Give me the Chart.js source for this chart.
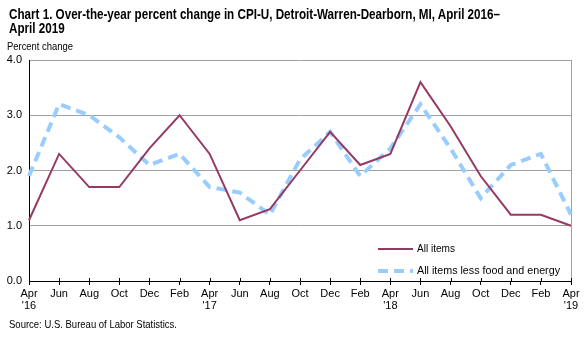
<!DOCTYPE html>
<html>
<head>
<meta charset="utf-8">
<script src="https://cdn.jsdelivr.net/npm/chart.js@4"></script>
<style>
  body { margin: 0; background: #fff; }
  #wrap { position: relative; width: 587px; height: 337px; overflow: hidden; }
  canvas { position: absolute; left: 0; top: 0; }
  .txt { position: absolute; font-family: "Liberation Sans", Arial, sans-serif; color: #000; white-space: nowrap; transform-origin: 0 0; }
  #title { left: 9px; top: 7px; font-size: 14px; font-weight: bold; line-height: 14px; }
  #ylab { left: 7px; top: 40px; font-size: 11px; }
  #source { left: 9px; top: 318px; font-size: 11px; }
</style>
</head>
<body>
<div id="wrap">
  <canvas id="chart" width="587" height="337"></canvas>
  <div id="title" class="txt"><span id="t1">Chart 1. Over-the-year percent change in CPI-U, Detroit-Warren-Dearborn, MI, April 2016–</span><br>April 2019</div>
  <div id="ylab" class="txt">Percent change</div>
  <div id="source" class="txt">Source: U.S. Bureau of Labor Statistics.</div>
</div>
<script>
const months = ["Apr", "Jun", "Aug", "Oct", "Dec", "Feb", "Apr", "Jun", "Aug", "Oct", "Dec", "Feb", "Apr", "Jun", "Aug", "Oct", "Dec", "Feb", "Apr"];
const years = ["'16", "", "", "", "", "", "'17", "", "", "", "", "", "'18", "", "", "", "", "", "'19"];
const allItems = [1.1, 2.3, 1.7, 1.7, 2.4, 3.0, 2.3, 1.1, 1.3, 2.0, 2.7, 2.1, 2.3, 3.6, 2.8, 1.9, 1.2, 1.2, 1.0];
const lessFoodEnergy = [1.9, 3.2, 3.0, 2.6, 2.1, 2.3, 1.7, 1.6, 1.2, 2.2, 2.7, 1.9, 2.4, 3.2, 2.4, 1.5, 2.1, 2.3, 1.2];
const yTicks = [0, 1, 2, 3, 4];

const fontFamily = '"Liberation Sans", Arial, sans-serif';
const labels = months.map((m, i) => years[i] ? [m, years[i]] : m);

// the original uses a narrow face, so squeeze the html texts to the same width
const squeeze = (el, measure, width) => {
    const w = measure.getBoundingClientRect().width;
    el.style.transform = "scaleX(" + (width / w) + ")";
};
squeeze(document.getElementById("title"), document.getElementById("t1"), 491);
squeeze(document.getElementById("ylab"), document.getElementById("ylab"), 66);
squeeze(document.getElementById("source"), document.getElementById("source"), 168);

// legend drawn inside the plot, lower right
const insideLegend = {
    id: "insideLegend",
    afterDraw(chart) {
        const ctx = chart.ctx;
        const rows = [[378, 249], [378, 271]];
        ctx.save();
        chart.data.datasets.forEach((ds, i) => {
            const [x, y] = rows[i];
            ctx.strokeStyle = ds.borderColor;
            ctx.lineWidth = ds.borderWidth;
            ctx.setLineDash(ds.borderDash || []);
            ctx.beginPath();
            ctx.moveTo(x, y);
            ctx.lineTo(x + 35, y);
            ctx.stroke();
            ctx.setLineDash([]);
            ctx.fillStyle = "#000";
            ctx.font = "11px " + fontFamily;
            ctx.textBaseline = "middle";
            const tw = ctx.measureText(ds.label).width;
            const target = i === 0 ? 38 : 143;
            ctx.save();
            ctx.translate(x + 39, y);
            ctx.scale(Math.min(1, target / tw), 1);
            ctx.fillText(ds.label, 0, 0);
            ctx.restore();
        });
        ctx.restore();
    }
};

// x ticks cross the axis in the original: add the short piece above it
const crossTicks = {
    id: "crossTicks",
    afterDraw(chart) {
        const ctx = chart.ctx;
        const xs = chart.scales.x;
        const y0 = chart.chartArea.bottom;
        ctx.save();
        ctx.strokeStyle = "#000";
        ctx.lineWidth = 1;
        xs.ticks.forEach((t, i) => {
            const px = Math.round(xs.getPixelForTick(i)) + 0.5;
            ctx.beginPath();
            ctx.moveTo(px, y0 - 3);
            ctx.lineTo(px, y0);
            ctx.stroke();
        });
        ctx.restore();
    }
};

new Chart(document.getElementById("chart"), {
    type: "line",
    data: {
        labels: labels,
        datasets: [{
            label: "All items",
            data: allItems,
            borderColor: "#953A63",
            borderWidth: 2,
            pointRadius: 0,
            tension: 0
        }, {
            label: "All items less food and energy",
            data: lessFoodEnergy,
            borderColor: "#99CCFF",
            borderWidth: 4,
            borderDash: [10, 6],
            pointRadius: 0,
            tension: 0
        }]
    },
    options: {
        responsive: false,
        animation: false,
        layout: { padding: { left: 0, top: 60, right: 16, bottom: 16 } },
        plugins: { legend: { display: false }, tooltip: { enabled: false } },
        scales: {
            x: {
                offset: false,
                afterFit: s => { s.height = 40; },
                border: { color: "#000", width: 1 },
                grid: {
                    color: c => c.index === months.length - 1 ? "#A0A0A0" : "rgba(0,0,0,0)",
                    tickColor: "#000",
                    tickLength: 4
                },
                ticks: {
                    maxRotation: 0,
                    autoSkip: false,
                    color: "#000",
                    padding: 3,
                    font: { family: fontFamily, size: 11, lineHeight: 1.1 }
                }
            },
            y: {
                min: 0,
                max: 4,
                afterFit: s => { s.width = 29; },
                afterBuildTicks: s => { s.ticks = yTicks.map(v => ({ value: v })); },
                border: { color: "#000", width: 1 },
                grid: {
                    color: c => c.tick.value === 0 ? "rgba(0,0,0,0)" : "#A0A0A0",
                    drawTicks: false
                },
                ticks: {
                    color: "#000",
                    padding: 7,
                    font: { family: fontFamily, size: 11 },
                    callback: v => v.toFixed(1)
                }
            }
        }
    },
    plugins: [insideLegend, crossTicks]
});
</script>
</body>
</html>
